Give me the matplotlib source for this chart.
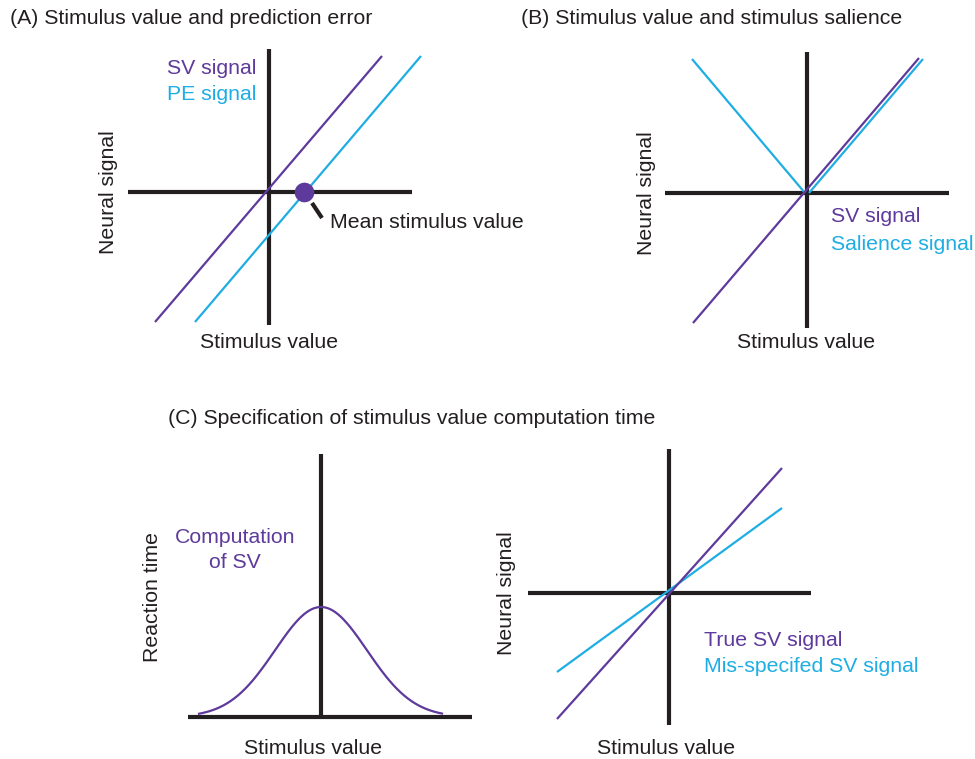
import matplotlib
matplotlib.use("Agg")
import matplotlib.pyplot as plt
import numpy as np

plt.rcParams["font.family"] = ["Liberation Sans", "DejaVu Sans"]

PURPLE = "#5e3a9c"
CYAN = "#1fade3"
INK = "#231f20"
FS = 15.3

W, H = 975, 759

# Schematic panels, 1 unit = 100 px, each centred on its own origin
# (A) stimulus value vs. prediction error
a_origin = (269, 192)
a_haxis = [-1.41, 1.43]
a_vaxis = [-1.33, 1.43]
a_sv_x, a_sv_y = [-1.14, 1.13], [-1.30, 1.36]
a_pe_x, a_pe_y = [-0.74, 1.52], [-1.30, 1.36]
a_mean_sv = 0.35
a_pointer_x, a_pointer_y = [0.43, 0.53], [-0.11, -0.26]

# (B) stimulus value vs. salience
b_origin = (807, 193)
b_haxis = [-1.42, 1.42]
b_vaxis = [-1.35, 1.41]
b_sv_x, b_sv_y = [-1.14, 1.12], [-1.30, 1.35]
b_sal_left_x, b_sal_left_y = [-1.15, -0.02], [1.34, 0.0]
b_sal_right_x, b_sal_right_y = [0.02, 1.16], [0.0, 1.34]

# (C, left) reaction time across stimulus value
c1_origin = (321, 717)
c1_haxis = [-1.33, 1.51]
c1_vaxis = [-0.02, 2.63]
c1_rt_peak = 1.10
c1_rt_sigma = 0.46
c1_rt_span = [-1.22, 1.21]

# (C, right) true vs. mis-specified SV signal
c2_origin = (669, 593)
c2_haxis = [-1.41, 1.42]
c2_vaxis = [-1.32, 1.44]
c2_true_x, c2_true_y = [-1.12, 1.13], [-1.26, 1.25]
c2_mis_x, c2_mis_y = [-1.12, 1.13], [-0.79, 0.85]

fig = plt.figure(figsize=(W / 100, H / 100), dpi=100)


def panel(origin):
    ox, oy = origin
    ax = fig.add_axes([0, 0, 1, 1])
    ax.set_xlim(-ox / 100, (W - ox) / 100)
    ax.set_ylim(-(H - oy) / 100, oy / 100)
    ax.patch.set_alpha(0)
    ax.axis("off")
    return ax


def cross(ax, hx, vy):
    kw = dict(color=INK, lw=3.0, solid_capstyle="butt", zorder=1)
    ax.plot(hx, [0, 0], **kw)
    ax.plot([0, 0], vy, **kw)


def signal(ax, x, y, color):
    ax.plot(x, y, color=color, lw=1.6, solid_capstyle="butt", zorder=2)


# --- (A)
ax = panel(a_origin)
cross(ax, a_haxis, a_vaxis)
signal(ax, a_sv_x, a_sv_y, PURPLE)
signal(ax, a_pe_x, a_pe_y, CYAN)
ax.plot(a_pointer_x, a_pointer_y, color=INK, lw=3.0, solid_capstyle="butt", zorder=1)
ax.scatter([a_mean_sv], [0], s=200, color=PURPLE, zorder=3, linewidths=0)
ax.text(0.61, -0.31, "Mean stimulus value", fontsize=FS, color=INK, va="center")
ax.text(-0.13, 1.24, "SV signal", fontsize=FS, color=PURPLE, ha="right", va="center")
ax.text(-0.13, 0.98, "PE signal", fontsize=FS, color=CYAN, ha="right", va="center")
ax.text(-1.60, 0.0, "Neural signal", fontsize=FS, color=INK, rotation=90,
        ha="center", va="center")
ax.text(0.0, -1.51, "Stimulus value", fontsize=FS, color=INK, ha="center", va="center")
fig.text(10 / W, 1 - 18 / H, "(A) Stimulus value and prediction error",
         fontsize=FS, color=INK, va="center")

# --- (B)
ax = panel(b_origin)
cross(ax, b_haxis, b_vaxis)
signal(ax, b_sal_left_x, b_sal_left_y, CYAN)
signal(ax, b_sal_right_x, b_sal_right_y, CYAN)
signal(ax, b_sv_x, b_sv_y, PURPLE)
ax.text(0.24, -0.24, "SV signal", fontsize=FS, color=PURPLE, va="center")
ax.text(0.24, -0.51, "Salience signal", fontsize=FS, color=CYAN, va="center")
ax.text(-1.60, 0.0, "Neural signal", fontsize=FS, color=INK, rotation=90,
        ha="center", va="center")
ax.text(-0.01, -1.50, "Stimulus value", fontsize=FS, color=INK, ha="center", va="center")
fig.text(521 / W, 1 - 18 / H, "(B) Stimulus value and stimulus salience",
         fontsize=FS, color=INK, va="center")

# --- (C)
fig.text(168 / W, 1 - 418 / H, "(C) Specification of stimulus value computation time",
         fontsize=FS, color=INK, va="center")

ax = panel(c1_origin)
cross(ax, c1_haxis, c1_vaxis)
sv = np.linspace(c1_rt_span[0], c1_rt_span[1], 200)
rt = c1_rt_peak * np.exp(-sv ** 2 / (2 * c1_rt_sigma ** 2))
ax.plot(sv, rt, color=PURPLE, lw=1.6, zorder=2)
ax.text(-0.86, 1.67, "Computation\nof SV", fontsize=FS, color=PURPLE,
        ha="center", va="center", linespacing=1.45)
ax.text(-1.68, 1.20, "Reaction time", fontsize=FS, color=INK, rotation=90,
        ha="center", va="center")
ax.text(-0.08, -0.31, "Stimulus value", fontsize=FS, color=INK, ha="center", va="center")

ax = panel(c2_origin)
cross(ax, c2_haxis, c2_vaxis)
signal(ax, c2_mis_x, c2_mis_y, CYAN)
signal(ax, c2_true_x, c2_true_y, PURPLE)
ax.text(0.35, -0.47, "True SV signal", fontsize=FS, color=PURPLE, va="center")
ax.text(0.35, -0.73, "Mis-specifed SV signal", fontsize=FS, color=CYAN, va="center")
ax.text(-1.63, 0.0, "Neural signal", fontsize=FS, color=INK, rotation=90,
        ha="center", va="center")
ax.text(-0.03, -1.55, "Stimulus value", fontsize=FS, color=INK, ha="center", va="center")

fig.savefig("out.png", dpi=100, facecolor="white")
